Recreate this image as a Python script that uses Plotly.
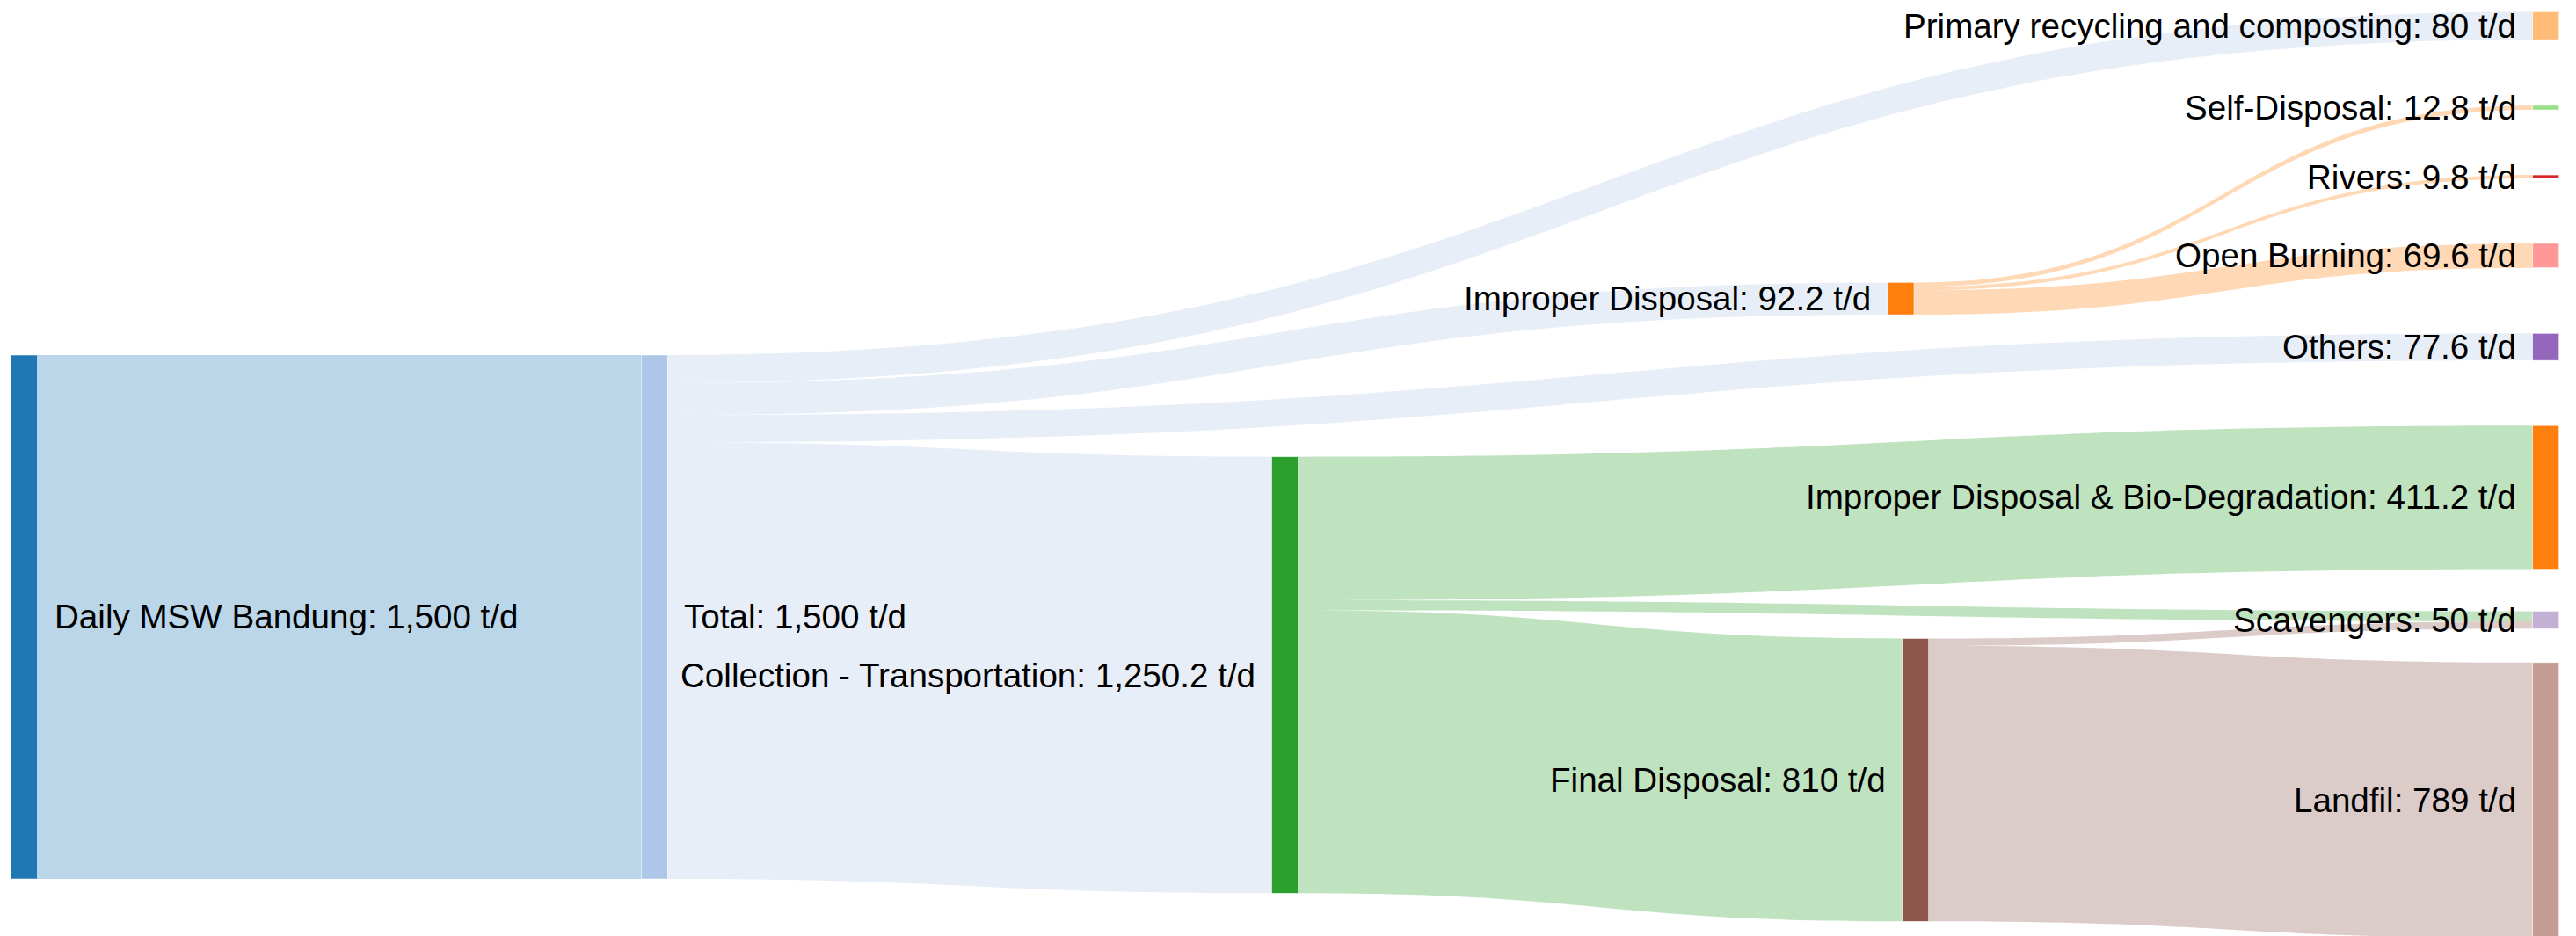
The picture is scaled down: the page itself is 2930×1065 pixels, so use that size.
import plotly.graph_objects as go

W, H = 2930, 1065
PAGE_OFFSET = 8  # default body margin of the page holding the figure

# Node names and their daily tonnage (t/d)
node_names = [
    "Daily MSW Bandung",
    "Total",
    "Primary recycling and composting",
    "Improper Disposal",
    "Others",
    "Collection - Transportation",
    "Self-Disposal",
    "Rivers",
    "Open Burning",
    "Improper Disposal & Bio-Degradation",
    "Scavengers",
    "Final Disposal",
    "Landfil",
]
node_values = ["1,500", "1,500", "80", "92.2", "77.6", "1,250.2", "12.8", "9.8",
               "69.6", "411.2", "50", "810", "789"]
node_colors = ["#1f77b4", "#aec7e8", "#ffbb78", "#ff7f0e", "#9467bd", "#2ca02c",
               "#98df8a", "#d62728", "#ff9896", "#ff7f0e", "#c5b0d5", "#8c564b",
               "#c49c94"]

# Flows
link_source = ["Daily MSW Bandung", "Total", "Total", "Total", "Total",
               "Improper Disposal", "Improper Disposal", "Improper Disposal",
               "Collection - Transportation", "Collection - Transportation",
               "Collection - Transportation", "Final Disposal", "Final Disposal"]
link_target = ["Total", "Primary recycling and composting", "Improper Disposal",
               "Others", "Collection - Transportation", "Self-Disposal", "Rivers",
               "Open Burning", "Improper Disposal & Bio-Degradation", "Scavengers",
               "Final Disposal", "Scavengers", "Landfil"]
link_value = [1500, 80, 92.2, 77.6, 1250.2, 12.8, 9.8, 69.6, 411.2, 29, 810, 21, 789]

# Layout: node centre placement on the page, in pixels (y from top)
node_px = [27.5, 744.3, 2895.7, 2162.0, 2895.7, 1461.5, 2895.7, 2895.7,
           2895.7, 2895.7, 2895.7, 2178.7, 2895.7]
node_py = [702.0, 702.0, 29.2, 339.7, 394.7, 768.0, 122.5, 201.0,
           290.8, 565.9, 705.4, 887.4, 910.6]
node_x = [(p - PAGE_OFFSET) / W for p in node_px]
node_y = [(p - PAGE_OFFSET) / H for p in node_py]
THICK = 30
LABEL_GAP = 17
FONT = dict(family="Arial, Liberation Sans, sans-serif", size=38.6, color="black")


def hex_to_rgba(h, a):
    h = h.lstrip("#")
    r, g, b = int(h[0:2], 16), int(h[2:4], 16), int(h[4:6], 16)
    return f"rgba({r},{g},{b},{a})"


idx = {n: i for i, n in enumerate(node_names)}
labels = [f"{n}: {v} t/d" for n, v in zip(node_names, node_values)]
src = [idx[s] for s in link_source]
tgt = [idx[t] for t in link_target]
link_colors = [hex_to_rgba(node_colors[s], 0.3) for s in src]

fig = go.Figure(go.Sankey(
    arrangement="fixed",
    node=dict(
        label=[""] * len(labels),
        color=node_colors,
        pad=67,
        thickness=THICK,
        x=node_x,
        y=node_y,
        line=dict(color="white", width=0.5),
    ),
    link=dict(source=src, target=tgt, value=link_value, color=link_colors),
    textfont=FONT,
    hoverinfo="none",
))

# Node labels: left-hand columns labelled on the right, the rest on the left
for lab, x, y in zip(labels, node_x, node_y):
    on_right = x < 0.4
    fig.add_annotation(
        text=lab, x=x, y=1 - y, xref="paper", yref="paper",
        xanchor="left" if on_right else "right", yanchor="middle",
        xshift=(THICK / 2 + LABEL_GAP) * (1 if on_right else -1),
        showarrow=False, font=FONT,
    )

fig.update_layout(
    width=W,
    height=H,
    margin=dict(l=0, r=0, t=0, b=0),
    paper_bgcolor="white",
)

fig.write_html("out.html")
